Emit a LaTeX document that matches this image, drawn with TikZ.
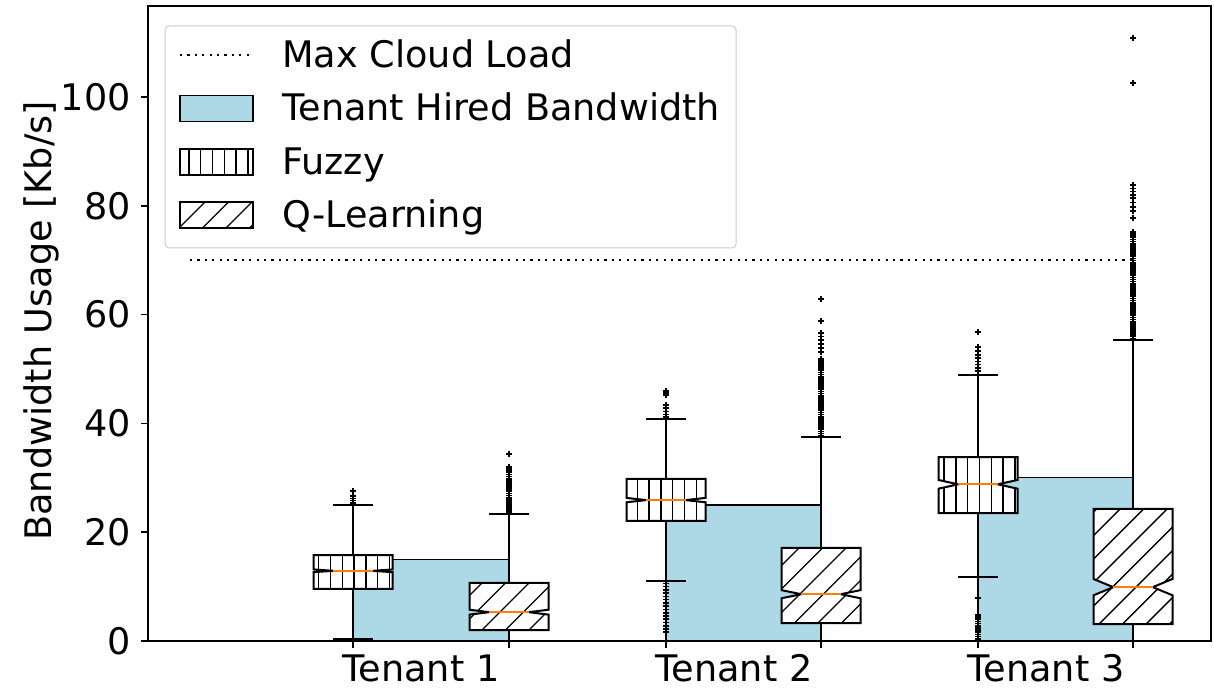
\documentclass[tikz,border=0pt]{standalone}
\usepackage{fontspec}
\setmainfont{DejaVu Sans}
\definecolor{hiredblue}{HTML}{ADD8E6}
\definecolor{medorange}{HTML}{FF7F0E}
\definecolor{framegray}{gray}{0.8}
% value (Kb/s) -> vertical position
\pgfmathdeclarefunction{V}{1}{\pgfmathparse{48+5.44*#1}}
\tikzset{
  lbl/.style={font=\fontsize{18.3}{22}\selectfont, inner sep=0pt},
  axisline/.style={line width=0.75pt, black},
  boxline/.style={line width=1pt, black, line join=miter},
  whisk/.style={line width=1pt, black},
  hatchline/.style={line width=0.7pt, black},
  medline/.style={line width=1pt, medorange},
  flier/.style={line width=0.8pt, black},
  maxload/.style={line width=1.2pt, dash pattern=on 1.1pt off 2.6pt},
  hiredbar/.style={fill=hiredblue, draw=black, line width=0.7pt},
}
% notched box outline: x, q1, q3, median, notch half-height
\newcommand\notchpath[5]{%
  ({#1-39.5},{V(#2)}) -- ({#1+39.5},{V(#2)}) -- ({#1+39.5},{V(#4-#5)}) --
  ({#1+19.75},{V(#4)}) -- ({#1+39.5},{V(#4+#5)}) -- ({#1+39.5},{V(#3)}) --
  ({#1-39.5},{V(#3)}) -- ({#1-39.5},{V(#4+#5)}) -- ({#1-19.75},{V(#4)}) --
  ({#1-39.5},{V(#4-#5)}) -- cycle}
% vertical hatching over x0..x1, y0..y1
\newcommand\vhatch[4]{%
  \pgfmathtruncatemacro\ha{floor((#1)/11.8)}%
  \pgfmathtruncatemacro\hb{ceil((#2)/11.8)}%
  \foreach \k in {\ha,...,\hb} \draw[hatchline] ({\k*11.8},{#3}) -- ({\k*11.8},{#4});}
% 45 degree hatching over x0..x1, y0..y1
\newcommand\dhatch[4]{%
  \pgfmathtruncatemacro\ha{floor((#3-(#2))/23.5)-1}%
  \pgfmathtruncatemacro\hb{ceil((#4-(#1))/23.5)+1}%
  \foreach \k in {\ha,...,\hb} \draw[hatchline] ({#1},{#1+\k*23.5}) -- ({#2},{#2+\k*23.5});}
% full box: x, q1, q3, median, notch, low whisker, high whisker, hatch (v/d)
\newcommand\tbox[8]{%
  \draw[whisk] (#1,{V(#2)}) -- (#1,{V(#6)});
  \draw[whisk] ({#1-20},{V(#6)}) -- ({#1+20},{V(#6)});
  \draw[whisk] (#1,{V(#3)}) -- (#1,{V(#7)});
  \draw[whisk] ({#1-20},{V(#7)}) -- ({#1+20},{V(#7)});
  \fill[white] \notchpath{#1}{#2}{#3}{#4}{#5};
  \begin{scope}
    \clip \notchpath{#1}{#2}{#3}{#4}{#5};
    \ifx v#8\vhatch{#1-41}{#1+41}{V(#2)-2}{V(#3)+2}\else\dhatch{#1-41}{#1+41}{V(#2)-2}{V(#3)+2}\fi
  \end{scope}
  \draw[boxline] \notchpath{#1}{#2}{#3}{#4}{#5};
  \draw[medline] ({#1-19.75},{V(#4)}) -- ({#1+19.75},{V(#4)});
}
% outlier crosses at x for a list of values
\newcommand\fliers[2]{%
  \foreach \v in {#2}
    \draw[flier] ({#1-3},{V(\v)}) -- ({#1+3},{V(\v)}) ({#1},{V(\v)-3}) -- ({#1},{V(\v)+3});}
\begin{document}
\begin{tikzpicture}[x=0.5pt, y=0.5pt]
\useasboundingbox (0,0) rectangle (1214,689);
\fill[white] (0,0) rectangle (1214,689);

% hired bandwidth per tenant
\draw[hiredbar] (353,{V(0)}) rectangle (509,{V(15)});
\draw[hiredbar] (666,{V(0)}) rectangle (821,{V(25)});
\draw[hiredbar] (978,{V(0)}) rectangle (1133,{V(30)});

% maximum cloud load
\draw[maxload] (190,{V(70)}) -- (1133,{V(70)});

% Tenant 1
\fliers{353}{25.4,25.8,26.2,26.6,27.6}
\tbox{353}{9.6}{15.8}{12.9}{0.25}{0.4}{25}{v}
\fliers{509}{23.6,23.95,...,32.3,34.4}
\tbox{509}{2.0}{10.7}{5.3}{0.45}{0}{23.3}{d}

% Tenant 2
\fliers{666}{41.2,41.6,42.2,42.8,43.4,45.2,45.6,46.0}
\fliers{666}{1.7,2.2,2.8,3.4,4.0,4.6,5.2,5.8,6.4,7.0,7.6,8.2,8.8,9.4,10.0,10.6}
\tbox{666}{22.1}{29.8}{25.9}{0.4}{11.0}{40.8}{v}
\fliers{821}{37.8,38.15,...,52.0,53.1,53.9,54.6,55.3,56.0,56.6,58.8,62.9}
\tbox{821}{3.3}{17.1}{8.6}{0.75}{0}{37.5}{d}

% Tenant 3
\fliers{978}{49.6,50.2,50.8,51.4,52.0,52.6,53.3,54.0,56.8}
\fliers{978}{0.4,0.8,1.2,1.6,2.0,2.4,2.8,3.2,3.6,4.0,4.4,4.8,7.9}
\tbox{978}{23.5}{33.8}{28.8}{0.8}{11.8}{48.9}{v}
\fliers{1133}{55.6,55.95,...,75.2,77.8,79.0,79.8,80.6,81.4,82.0,82.6,83.2,83.8,102.6,110.8}
\tbox{1133}{3.1}{24.3}{9.9}{1.5}{0}{55.3}{d}

% axes frame, ticks and labels
\draw[axisline] (148,48) rectangle (1211,683);
\foreach \v in {0,20,...,100} {
  \draw[axisline] (141,{V(\v)}) -- (148,{V(\v)});
  \node[lbl, anchor=east] (ytick\v) at (131,{V(\v)}) {\v};
}
\foreach \x in {353,509,666,821,978,1133}
  \draw[axisline] (\x,48) -- (\x,41);
\node[lbl, anchor=base] (tenant1) at (421,7) {Tenant 1};
\node[lbl, anchor=base] (tenant2) at (734,7) {Tenant 2};
\node[lbl, anchor=base] (tenant3) at (1046,7) {Tenant 3};
\node[lbl, anchor=base, rotate=90] (ylabel) at (51,368) {Bandwidth Usage [Kb/s]};

% legend
\draw[framegray, fill=white, line width=0.5pt, rounded corners=2pt] (165,441) rectangle (736,663);
\draw[maxload] (180,634) -- (253,634);
\draw[hiredbar] (180,567.5) rectangle (253,593.5);
\fill[white] (180,514) rectangle (253,540);
\begin{scope}
  \clip (180,514) rectangle (253,540);
  \vhatch{170}{263}{512}{542}
\end{scope}
\draw[boxline] (180,514) rectangle (253,540);
\fill[white] (180,460.5) rectangle (253,486.5);
\begin{scope}
  \clip (180,460.5) rectangle (253,486.5);
  \dhatch{170}{263}{458}{489}
\end{scope}
\draw[boxline] (180,460.5) rectangle (253,486.5);
\node[lbl, anchor=base west] (legmax) at (282,621.5) {Max Cloud Load};
\node[lbl, anchor=base west] (leghired) at (282,568) {Tenant Hired Bandwidth};
\node[lbl, anchor=base west] (legfuzzy) at (282,514.5) {Fuzzy};
\node[lbl, anchor=base west] (legq) at (282,461) {Q-Learning};
\end{tikzpicture}
\end{document}
